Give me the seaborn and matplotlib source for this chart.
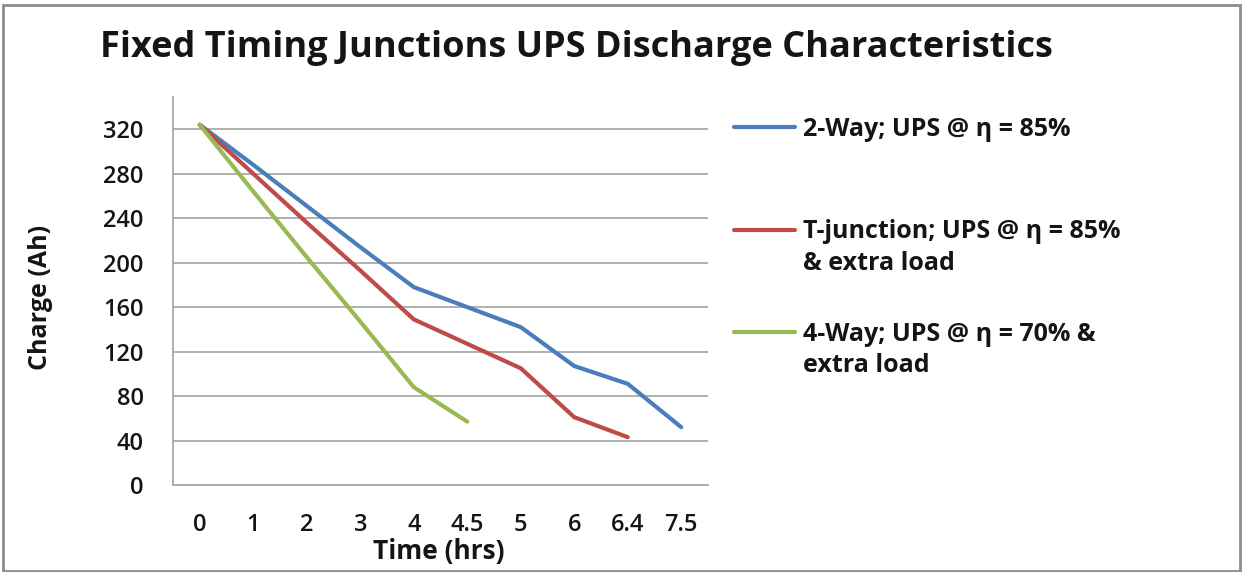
import numpy as np
import pandas as pd
import seaborn as sns
import matplotlib
matplotlib.use("Agg")
import matplotlib.pyplot as plt
from matplotlib.lines import Line2D
from matplotlib.patches import Rectangle

# Discharge readings (Ah) at each elapsed time (hrs)
times = ["0", "1", "2", "3", "4", "4.5", "5", "6", "6.4", "7.5"]
two_way = [324, 288, 251, 214, 178, 160, 142, 107, 91, 52]
t_junction = [324, 280, 236, 193, 149, 127, 105, 61, 43, np.nan]
four_way = [324, 264, 205, 147, 88, 57, np.nan, np.nan, np.nan, np.nan]

series_names = [
    "2-Way; UPS @ η = 85%",
    "T-junction; UPS @ η = 85%",
    "4-Way; UPS @ η = 70% &",
]
series_extra = ["", "& extra load", "extra load"]
y_ticks = [0, 40, 80, 120, 160, 200, 240, 280, 320]

colors = ["#4A7EBB", "#BE4B48", "#98B954"]

rows = []
for name, vals in zip(series_names, [two_way, t_junction, four_way]):
    for t, v in zip(times, vals):
        rows.append({"Time": t, "Charge": v, "Series": name})
df = pd.DataFrame(rows).dropna()

sns.set_theme(style="white")
plt.rcParams["font.family"] = ["Open Sans", "DejaVu Sans"]

txt_col = "#151515"
fig = plt.figure(figsize=(12.42, 5.72), dpi=100)
ax = fig.add_axes([173 / 1242, 1 - 485 / 572, (708 - 173) / 1242, (485 - 97) / 572])

palette = dict(zip(series_names, colors))
sns.lineplot(data=df, x="Time", y="Charge", hue="Series", hue_order=series_names,
             palette=palette, sort=False, linewidth=3.0, legend=False, ax=ax)

ax.set_xlim(-0.5, len(times) - 0.5)
ax.set_ylim(0, 349)
ax.set_xticks(range(len(times)))
ax.set_xticklabels(times)
ax.set_xticks(np.arange(-0.5, len(times), 1.0), minor=True)
ax.set_yticks(y_ticks)
ax.set_yticklabels([str(v) for v in y_ticks])

grid_col = "#A9A9A9"
ax.yaxis.grid(True, color=grid_col, linewidth=1.3)
ax.xaxis.grid(False)
ax.set_axisbelow(True)
for side in ["top", "right"]:
    ax.spines[side].set_visible(False)
for side in ["left", "bottom"]:
    ax.spines[side].set_color(grid_col)
    ax.spines[side].set_linewidth(1.3)

ax.tick_params(axis="x", which="major", length=0, pad=20, labelsize=17, labelcolor=txt_col)
ax.tick_params(axis="x", which="minor", length=7, width=1.3, color=grid_col, direction="out")
ax.tick_params(axis="y", which="major", length=5, width=1.3, color=grid_col, pad=16,
               labelsize=17, labelcolor=txt_col)
for lbl in ax.get_xticklabels() + ax.get_yticklabels():
    lbl.set_fontweight("semibold")
ax.set_xlabel("")
ax.set_ylabel("")

fig.text(100 / 1242, 1 - 48 / 572, "Fixed Timing Junctions UPS Discharge Characteristics",
         fontsize=26, fontweight="bold", ha="left", va="center", color=txt_col)
fig.text(41 / 1242, 1 - 297 / 572, "Charge (Ah)", rotation=90, fontsize=18,
         fontweight="bold", ha="center", va="center", color=txt_col)
fig.text(439 / 1242, 1 - 552 / 572, "Time (hrs)", fontsize=19,
         fontweight="bold", ha="center", va="center", color=txt_col)

handles = [Line2D([], [], color=c, linewidth=3.0) for c in colors]
leg = ax.legend(handles, series_names, loc="upper left",
                bbox_to_anchor=(734 / 1242, 1 - 117 / 572), bbox_transform=fig.transFigure,
                frameon=False, fontsize=18, handlelength=2.45, handletextpad=0.3,
                labelspacing=3.1, borderaxespad=0, borderpad=0)
for t in leg.get_texts():
    t.set_color(txt_col)
    t.set_fontweight("bold")

# Second line of the wrapped legend labels, aligned under the first line
fig.canvas.draw()
renderer = fig.canvas.get_renderer()
for t, extra in zip(leg.get_texts(), series_extra):
    if not extra:
        continue
    bb = t.get_window_extent(renderer)
    x0, y0 = fig.transFigure.inverted().transform((bb.x0, (bb.y0 + bb.y1) / 2 - 31))
    fig.text(x0, y0, extra, fontsize=18, fontweight="bold",
             ha="left", va="center", color=txt_col)

fig.patches.append(Rectangle((3 / 1242, 0.002), 1 - 5 / 1242, 1 - 6 / 572,
                             transform=fig.transFigure, fill=False,
                             edgecolor="#8c8c8c", linewidth=2))

fig.savefig("out.png", dpi=100)
